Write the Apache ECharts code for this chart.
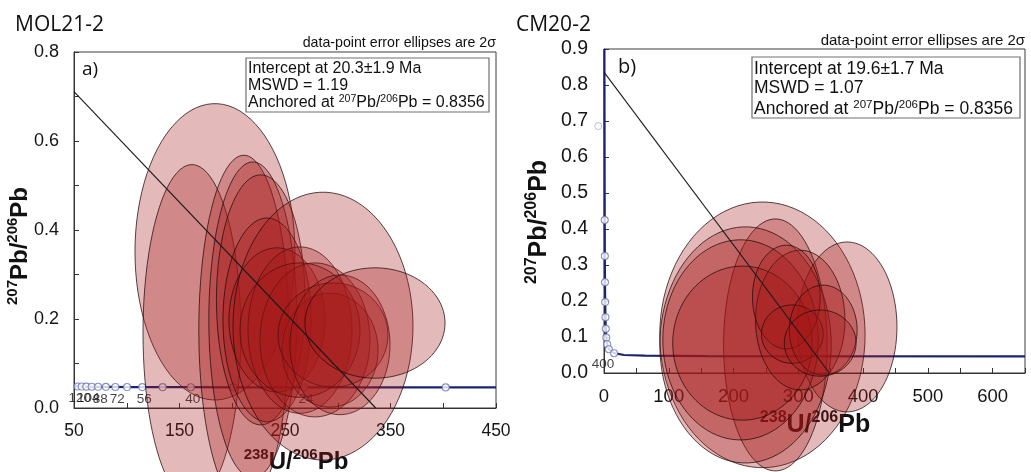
<!DOCTYPE html>
<html>
<head>
<meta charset="utf-8">
<script src="https://cdn.jsdelivr.net/npm/echarts@6.0.0/dist/echarts.min.js"></script>
<style>
  html, body { margin: 0; padding: 0; background: #fff; }
  #chart { width: 1031px; height: 472px; }
</style>
</head>
<body>
<div id="chart"></div>
<script>
// ---- Sample MOL21-2 (panel a) ----
// error ellipses: [238U/206Pb, 207Pb/206Pb, half-width (x), half-height (y)]
const ellipsesA = [
  [183.6, 0.351, 75.8, 0.333],
  [161.8, 0.169, 46.4, 0.378],
  [211.0, 0.175, 42.7, 0.393],
  [219.5, 0.198, 41.7, 0.355],
  [227.0, 0.243, 42.0, 0.281],
  [233.0, 0.198, 41.8, 0.229],
  [242.4, 0.198, 45.5, 0.162],
  [264.2, 0.175, 49.3, 0.187],
  [278.4, 0.153, 52.1, 0.173],
  [292.7, 0.130, 45.5, 0.128],
  [264.2, 0.175, 56.9, 0.151],
  [295.5, 0.164, 52.1, 0.117],
  [302.1, 0.142, 47.4, 0.157],
  [286.0, 0.184, 85.3, 0.301],
  [335.3, 0.191, 66.4, 0.124]
];
// concordia curve (238U/206Pb, 207Pb/206Pb) with age ticks in Ma
const concordiaA_x = [50, 53.5, 57.3, 61.7, 66.8, 72.9, 80.2, 89.2, 100.3, 114.7, 134.0, 160.7, 201.0, 268.1, 402.3, 450];
const concordiaA_y = [0.0487, 0.0484, 0.0482, 0.0480, 0.0478, 0.0476, 0.0475, 0.0473, 0.0471, 0.0470, 0.0468, 0.0467, 0.0465, 0.0464, 0.0463, 0.0462];
const concordiaA_age = [null, 120, 112, 104, 96, 88, 80, 72, 64, 56, 48, 40, 32, 24, 16, null];
const concordiaA_labels = ['120', '104', '88', '72', '56', '40', '24'];
// anchored regression line
const discordiaA = [[50, 0.711], [336, 0]];
const infoA = ['Intercept at 20.3\u00b11.9 Ma', 'MSWD = 1.19'];

// ---- Sample CM20-2 (panel b) ----
const ellipsesB = [
  [244.6, 0.106, 158.5, 0.369],
  [264.6, 0.078, 80.0, 0.350],
  [375.4, 0.128, 76.9, 0.236],
  [218.5, 0.078, 132.3, 0.328],
  [210.8, 0.092, 120.0, 0.278],
  [213.8, 0.083, 107.7, 0.214],
  [303.0, 0.147, 69.0, 0.194],
  [281.5, 0.211, 52.3, 0.144],
  [290.8, 0.108, 47.7, 0.081],
  [338.5, 0.119, 52.3, 0.125],
  [333.8, 0.083, 55.4, 0.092]
];
const concordiaB_x = [0.62, 0.94, 1.09, 1.28, 1.51, 1.81, 2.2, 2.74, 3.55, 4.9, 7.57, 15.6, 31, 63, 160, 650];
const concordiaB_y = [0.9, 0.56, 0.425, 0.325, 0.252, 0.197, 0.155, 0.123, 0.0985, 0.080, 0.066, 0.055, 0.050, 0.048, 0.047, 0.046];
const concordiaB_age = [null, null, 4000, 3600, 3200, 2800, 2400, 2000, 1600, 1200, 800, 400, null, null, null, null];
const concordiaB_labels = ['400'];
const strayMarkerB = [[-9, 0.686]];
const discordiaB = [[0, 0.8356], [348, 0]];
const infoB = ['Intercept at 19.6\u00b11.7 Ma', 'MSWD = 1.07'];

const xTicksA = { min: 50, max: 450, step: 50 };
const yTicksA = { min: 0, max: 0.8, step: 0.1 };
const xTicksB = { min: 0, max: 650, step: 50 };
const yTicksB = { min: 0, max: 0.9, step: 0.1 };

// ---- styling ----
const ELL_FILL = 'rgba(165, 22, 22, 0.30)';
const ELL_STROKE = 'rgba(35, 12, 12, 0.85)';
const CONC_LINE = '#1b246e';
const CONC_MARK = '#6a74b6';
const FONT = '"Liberation Sans", Arial, sans-serif';
const TITLE_FONT = '"Open Sans", "Liberation Sans", sans-serif';

function ellipseItem(params, api) {
  const cx = api.value(0), cy = api.value(1), rx = api.value(2), ry = api.value(3);
  const pts = [];
  const n = 90;
  for (let k = 0; k < n; k++) {
    const t = (k / n) * Math.PI * 2;
    pts.push(api.coord([cx + rx * Math.cos(t), cy + ry * Math.sin(t)]));
  }
  return {
    type: 'polygon',
    shape: { points: pts },
    style: { fill: ELL_FILL, stroke: ELL_STROKE, lineWidth: 0.9 }
  };
}

function zip(xs, ys) { return xs.map((x, i) => [x, ys[i]]); }

function markerData(xs, ys, ages, labels, offset) {
  const out = [];
  xs.forEach((x, i) => {
    if (ages[i] == null) return;
    const txt = String(ages[i]);
    const show = labels.indexOf(txt) >= 0;
    out.push({
      value: [x, ys[i]],
      label: { show: show, formatter: txt, position: 'bottom', distance: 1, offset: offset,
               fontSize: 13.5, fontFamily: FONT, color: '#111' }
    });
  });
  return out;
}

function axisPair(gridIndex, xt, yt, opts) {
  return {
    x: {
      type: 'value', gridIndex: gridIndex, min: xt.min, max: xt.max, interval: xt.step,
      splitLine: { show: false },
      axisLine: { show: true, onZero: false, lineStyle: { color: '#333', width: 1 } },
      axisTick: { show: true, inside: true, length: 5, lineStyle: { color: '#333' } },
      axisLabel: {
        margin: opts.xMargin, fontSize: opts.xFont, fontFamily: FONT, color: '#151515',
        showMinLabel: true, showMaxLabel: true,
        formatter: v => (Math.round((v - opts.xLabelBase) / xt.step) % 2 === 0 ? String(Math.round(v)) : '')
      }
    },
    y: {
      type: 'value', gridIndex: gridIndex, min: yt.min, max: yt.max, interval: yt.step,
      splitLine: { show: false },
      axisLine: { show: true, onZero: false, lineStyle: { color: '#333', width: 1 } },
      axisTick: { show: true, inside: true, length: 5, lineStyle: { color: '#333' } },
      axisLabel: {
        margin: opts.yMargin, fontSize: opts.yFont, fontFamily: FONT, color: '#151515',
        showMinLabel: true, showMaxLabel: true,
        formatter: v => (Math.round(v * 10) % opts.yEvery === 0 ? v.toFixed(1) : '')
      }
    }
  };
}

const axA = axisPair(0, xTicksA, yTicksA, { xMargin: 14, xFont: 17.5, yMargin: 15, yFont: 18, xLabelBase: 50, yEvery: 2 });
const axB = axisPair(1, xTicksB, yTicksB, { xMargin: 14, xFont: 18.5, yMargin: 16, yFont: 19.5, xLabelBase: 0, yEvery: 1 });

function panelSeries(xi, yi, ellipses, cx, cy, ages, labels, labelOffset, disc) {
  return [
    {
      type: 'line', xAxisIndex: xi, yAxisIndex: yi, data: zip(cx, cy),
      showSymbol: false, smooth: false, z: 2, silent: true,
      lineStyle: { color: CONC_LINE, width: 2.2 }
    },
    {
      type: 'scatter', xAxisIndex: xi, yAxisIndex: yi, z: 3, silent: true,
      symbol: 'circle', symbolSize: 7,
      itemStyle: { color: '#ffffff', borderColor: CONC_MARK, borderWidth: 1.1 },
      data: markerData(cx, cy, ages, labels, labelOffset)
    },
    {
      type: 'custom', xAxisIndex: xi, yAxisIndex: yi, z: 4, clip: false, silent: true,
      dimensions: ['u', 'pb', 'rx', 'ry'],
      encode: { x: 0, y: 1 },
      renderItem: ellipseItem,
      data: ellipses
    },
    {
      type: 'line', xAxisIndex: xi, yAxisIndex: yi, data: disc,
      showSymbol: false, z: 5, silent: true,
      lineStyle: { color: '#1a1a1a', width: 1.1 }
    }
  ];
}

// rich text for isotope ratios with superscripted mass numbers
function isoRich(main, sup, lh, supLh, bold) {
  return {
    n: { fontSize: main, lineHeight: lh, verticalAlign: 'bottom', fontFamily: FONT, fontWeight: bold ? 'bold' : 'normal', fill: '#111', color: '#111' },
    s: { fontSize: sup, lineHeight: supLh, verticalAlign: 'top', fontFamily: FONT, fontWeight: bold ? 'bold' : 'normal', fill: '#111', color: '#111' }
  };
}

function textEl(x, y, text, font, opts) {
  return Object.assign({
    type: 'text', x: x, y: y, z: 50,
    style: Object.assign({
      text: text, font: font, fill: '#111',
      align: 'left', verticalAlign: 'middle', textAlign: 'left', textVerticalAlign: 'middle'
    }, opts && opts.style)
  }, opts && opts.el);
}

function infoBox(x, y, w, h, lines, fs, lh) {
  const rich = isoRich(fs, fs * 0.66, lh, fs * 0.7, false);
  const children = [
    { type: 'rect', shape: { x: x, y: y, width: w, height: h }, style: { fill: '#fff', stroke: '#707070', lineWidth: 1.2 }, z: 49 }
  ];
  lines.forEach((t, i) => {
    children.push(textEl(x + 2, y + lh * 0.62 + i * lh, t, fs + 'px ' + FONT));
  });
  children.push({
    type: 'text', x: x + 2, y: y + lh * 0.62 + 2 * lh - lh / 2, z: 50,
    style: {
      text: '{n|Anchored at }{s|207}{n|Pb/}{s|206}{n|Pb = 0.8356}',
      rich: rich, align: 'left', verticalAlign: 'top', textAlign: 'left', textVerticalAlign: 'top'
    }
  });
  return children;
}

const axisTitleRich = (fs) => isoRich(fs, Math.round(fs * 0.64), fs + 3, Math.round(fs * 0.66), true);

const graphics = [
  textEl(15, 25, 'MOL21-2', '21px ' + TITLE_FONT),
  textEl(516, 25, 'CM20-2', '21px ' + TITLE_FONT),
  textEl(82, 70, 'a)', '19px ' + TITLE_FONT),
  textEl(618, 67, 'b)', '20px ' + TITLE_FONT),
  textEl(496, 43, 'data-point error ellipses are 2\u03c3', '14.2px ' + FONT, { style: { align: 'right', textAlign: 'right' } }),
  textEl(1025, 41, 'data-point error ellipses are 2\u03c3', '15px ' + FONT, { style: { align: 'right', textAlign: 'right' } }),
  // axis titles
  { type: 'text', x: 296, y: 461, z: 1,
    style: { text: '{s|238}{n|U/}{s|206}{n|Pb}', rich: axisTitleRich(24), align: 'center', verticalAlign: 'middle', textAlign: 'center', textVerticalAlign: 'middle' } },
  { type: 'text', x: 815, y: 424, z: 1,
    style: { text: '{s|238}{n|U/}{s|206}{n|Pb}', rich: axisTitleRich(25), align: 'center', verticalAlign: 'middle', textAlign: 'center', textVerticalAlign: 'middle' } },
  { type: 'text', x: 19, y: 246, z: 1, rotation: Math.PI / 2,
    style: { text: '{s|207}{n|Pb/}{s|206}{n|Pb}', rich: axisTitleRich(24), align: 'center', verticalAlign: 'middle', textAlign: 'center', textVerticalAlign: 'middle' } },
  { type: 'text', x: 538, y: 222, z: 1, rotation: Math.PI / 2,
    style: { text: '{s|207}{n|Pb/}{s|206}{n|Pb}', rich: axisTitleRich(25), align: 'center', verticalAlign: 'middle', textAlign: 'center', textVerticalAlign: 'middle' } }
].concat(infoBox(246, 58, 243, 54, infoA, 16, 17))
 .concat(infoBox(752, 57, 268, 61, infoB, 17.5, 19.5));

const option = {
  animation: false,
  backgroundColor: '#ffffff',
  grid: [
    { left: 74, top: 52, width: 422, height: 356, show: true, borderColor: '#3c3c3c', borderWidth: 1, backgroundColor: 'transparent' },
    { left: 604, top: 49, width: 421, height: 324, show: true, borderColor: '#3c3c3c', borderWidth: 1, backgroundColor: 'transparent' }
  ],
  xAxis: [axA.x, axB.x],
  yAxis: [axA.y, axB.y],
  graphic: { elements: graphics },
  series: panelSeries(0, 0, ellipsesA, concordiaA_x, concordiaA_y, concordiaA_age, concordiaA_labels, [2, 0], discordiaA)
    .concat(panelSeries(1, 1, ellipsesB, concordiaB_x, concordiaB_y, concordiaB_age, concordiaB_labels, [-11, -1], discordiaB))
    .concat([{
      type: 'scatter', xAxisIndex: 1, yAxisIndex: 1, z: 3, silent: true, clip: false,
      symbol: 'circle', symbolSize: 7,
      itemStyle: { color: '#ffffff', borderColor: '#a9aed0', borderWidth: 1 },
      data: strayMarkerB
    }])
};

const chart = echarts.init(document.getElementById('chart'), null, { renderer: 'canvas' });
chart.setOption(option);
</script>
</body>
</html>
